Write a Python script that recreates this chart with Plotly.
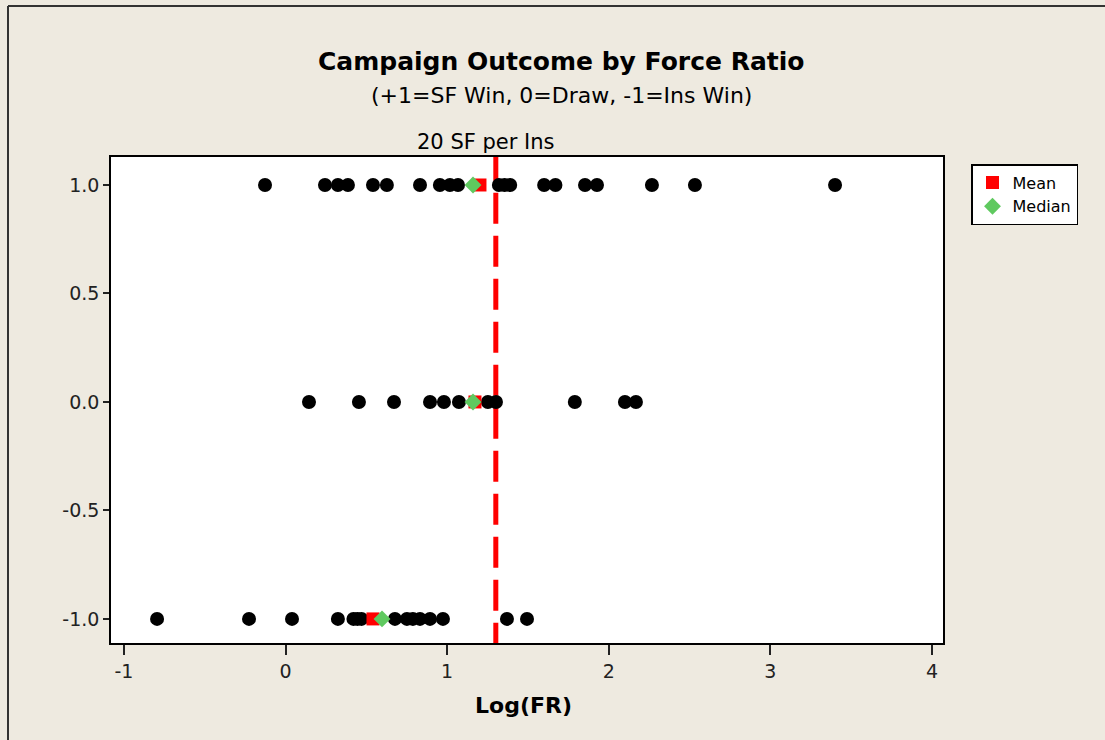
import plotly.graph_objects as go

# ---- data ----
win_x = [-0.127, 0.244, 0.324, 0.386, 0.541, 0.627, 0.832, 0.955, 1.017, 1.067,
         1.32, 1.355, 1.39, 1.60, 1.67, 1.853, 1.927, 2.267, 2.533, 3.40]
draw_x = [0.145, 0.454, 0.671, 0.894, 0.98, 1.073, 1.252, 1.302, 1.79, 2.10, 2.168]
loss_x = [-0.795, -0.226, 0.04, 0.324, 0.42, 0.445, 0.47, 0.677, 0.751, 0.788,
          0.832, 0.894, 0.974, 1.37, 1.494]

outcomes = [1, 0, -1]
mean_x = [1.203, 1.172, 0.541]
median_x = [1.16, 1.16, 0.597]

ref_x = 1.30103  # log10(20): 20 SF per Ins
x_ticks = [-1, 0, 1, 2, 3, 4]
y_ticks = [-1.0, -0.5, 0.0, 0.5, 1.0]

FONT = "DejaVu Sans"
BG = "#EEEAE0"

fig = go.Figure()

all_x = win_x + draw_x + loss_x
all_y = [1] * len(win_x) + [0] * len(draw_x) + [-1] * len(loss_x)

# reference line (drawn first, behind the points)
fig.add_trace(go.Scatter(
    x=[ref_x, ref_x], y=[-1.161, 1.3], mode="lines",
    line=dict(color="#FF0000", width=5, dash="31px,12px"),
    showlegend=False, hoverinfo="skip"))

fig.add_trace(go.Scatter(
    x=all_x, y=all_y, mode="markers",
    marker=dict(color="black", size=14, symbol="circle"),
    showlegend=False))

fig.add_trace(go.Scatter(
    x=mean_x, y=outcomes, mode="markers", name="Mean",
    marker=dict(color="#FF0000", size=13, symbol="square")))

fig.add_trace(go.Scatter(
    x=median_x, y=outcomes, mode="markers", name="Median",
    marker=dict(color="#5FC95F", size=13, symbol="diamond")))

L, R, T, B = 111, 162, 157, 97
PW = 1105 - L - R
PH = 740 - T - B

def px(xp):
    return (xp - L) / PW

def py(yp):
    return (740 - B - yp) / PH

fig.update_layout(
    width=1105, height=740,
    margin=dict(l=L, r=R, t=T, b=B, pad=0),
    paper_bgcolor=BG, plot_bgcolor="white",
    font=dict(family=FONT, color="#111"),
    showlegend=True,
    legend=dict(
        x=px(971), y=py(164), xanchor="left", yanchor="top",
        bgcolor="white", bordercolor="black", borderwidth=1.5,
        font=dict(family=FONT, size=16, color="black"),
        tracegroupgap=0,
    ),
    xaxis=dict(
        range=[-1.08, 4.068], tickvals=x_ticks, ticktext=[str(v) for v in x_ticks],
        showgrid=False, zeroline=False,
        showline=True, linecolor="black", linewidth=1.5, mirror=True,
        ticks="outside", ticklen=10, tickwidth=1.5, tickcolor="#222",
        tickfont=dict(family=FONT, size=19, color="#222"),
    ),
    yaxis=dict(
        range=[-1.111, 1.129], tickvals=y_ticks,
        ticktext=[f"{v:.1f}" for v in y_ticks],
        showgrid=False, zeroline=False,
        showline=True, linecolor="black", linewidth=1.5, mirror=True,
        ticks="outside", ticklen=6, tickwidth=1.5, tickcolor="#222",
        tickfont=dict(family=FONT, size=19, color="#222"),
    ),
)

annotations = [
    dict(text="<b>Campaign Outcome by Force Ratio</b>", x=px(561), y=py(62),
         font=dict(family=FONT, size=25, color="black")),
    dict(text="(+1=SF Win, 0=Draw, -1=Ins Win)", x=px(561), y=py(96),
         font=dict(family=FONT, size=22, color="black")),
    dict(text="20 SF per Ins", x=px(485), y=py(142),
         font=dict(family=FONT, size=21, color="black")),
    dict(text="<b>Log(FR)</b>", x=px(523), y=py(705),
         font=dict(family=FONT, size=22, color="black")),
]
for a in annotations:
    fig.add_annotation(xref="paper", yref="paper", showarrow=False,
                       xanchor="center", yanchor="middle", **a)

# outer frame (left and top borders of the chart window)
fig.add_shape(type="line", xref="paper", yref="paper",
              x0=px(8), x1=px(8), y0=py(6), y1=py(760),
              line=dict(color="#333", width=2))
fig.add_shape(type="line", xref="paper", yref="paper",
              x0=px(8), x1=px(1120), y0=py(6), y1=py(6),
              line=dict(color="#333", width=2))

fig.write_html("out.html")
